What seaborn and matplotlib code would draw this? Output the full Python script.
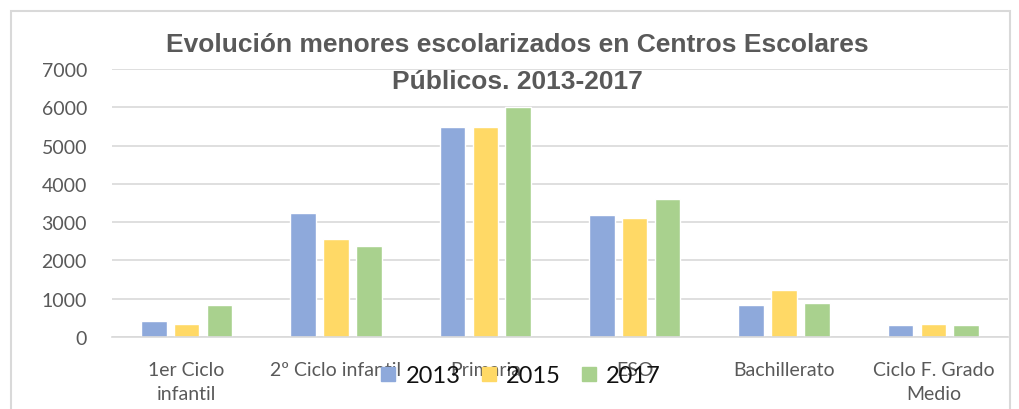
import numpy as np
import pandas as pd
import seaborn as sns
from matplotlib import pyplot as plt
from matplotlib.patches import Rectangle

# Values
categories = ['1er Ciclo\ninfantil', '2º Ciclo infantil', 'Primaria', 'ESO',
              'Bachillerato', 'Ciclo F. Grado\nMedio']
years = ['2013', '2015', '2017']
values_2013 = [410, 3230, 5480, 3190, 845, 320]
values_2015 = [350, 2550, 5480, 3120, 1220, 350]
values_2017 = [845, 2385, 6005, 3595, 890, 320]
colors = ['#8EA9DB', '#FFD966', '#A9D18E']

sns.set_theme(style='white')
plt.rcParams['font.family'] = ['Lato', 'DejaVu Sans']

df = pd.DataFrame({
    'categoria': categories * 3,
    'anio': [y for y in years for _ in categories],
    'valor': values_2013 + values_2015 + values_2017,
})

fig = plt.figure(figsize=(10.2, 4.1), dpi=100)
ax = fig.add_axes([112 / 1020, 1 - 338 / 410, (1008 - 112) / 1020, (338 - 70) / 410])

sns.barplot(data=df, x='categoria', y='valor', hue='anio', palette=colors,
            width=0.66, gap=0.22, saturation=1, ax=ax, legend=False)

ax.set_ylim(0, 7000)
ax.set_yticks(np.arange(0, 7001, 1000))
ax.set_xlim(-0.5, len(categories) - 0.5)
ax.yaxis.grid(True, color='#D9D9D9', linewidth=1.2)
ax.set_axisbelow(True)
for side in ['left', 'right', 'top']:
    ax.spines[side].set_visible(False)
ax.spines['bottom'].set_color('#D9D9D9')
ax.spines['bottom'].set_linewidth(1.2)
ax.tick_params(axis='both', length=0, labelsize=14, labelcolor='#595959')
ax.tick_params(axis='y', pad=18)
ax.tick_params(axis='x', pad=17)
for lbl in ax.get_xticklabels():
    lbl.set_linespacing(1.55)
ax.set_xlabel('')
ax.set_ylabel('')

# title in two lines, over the top of the plot area
fig.text(517 / 1020, 1 - 45 / 410, 'Evolución menores escolarizados en Centros Escolares',
         ha='center', va='center', fontsize=19, fontweight='bold', color='#595959',
         family='Liberation Sans')
fig.text(517 / 1020, 1 - 82 / 410, 'Públicos. 2013-2017',
         ha='center', va='center', fontsize=19, fontweight='bold', color='#595959',
         family='Liberation Sans')

# legend sits on top of the x labels like in the original
handles = [Rectangle((0, 0), 1, 1, color=c) for c in colors]
leg = fig.legend(handles, years, loc='center', bbox_to_anchor=(521 / 1020, 1 - 377 / 410),
                 ncol=3, frameon=False, fontsize=17, handlelength=0.6, handleheight=0.5,
                 handletextpad=0.42, columnspacing=0.9, borderpad=0, borderaxespad=0)
for t in leg.get_texts():
    t.set_color('#111111')

# light chart border
fig.patches.append(Rectangle((11 / 1020, -0.1), (1010 - 11) / 1020, 1 - 12 / 410 + 0.1,
                             transform=fig.transFigure, fill=False,
                             edgecolor='#D9D9D9', linewidth=1.5))

fig.savefig('out.png', dpi=100)
plt.close()
